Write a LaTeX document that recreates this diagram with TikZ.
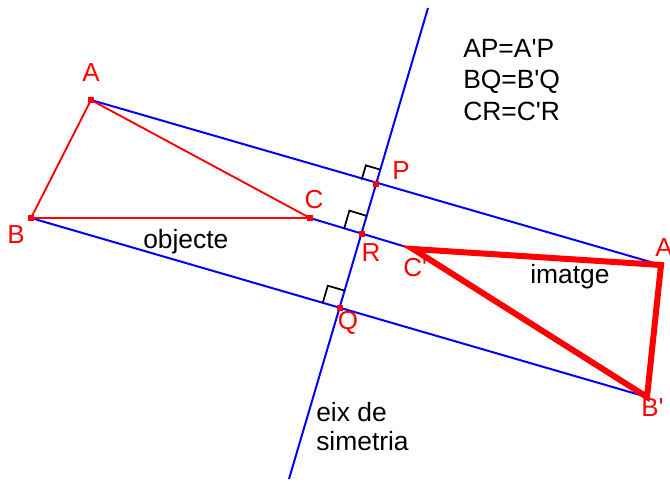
\documentclass[tikz,border=0pt]{standalone}
\usepackage{fontspec}
\setmainfont{Liberation Sans}[Ligatures=TeXOff]
\usetikzlibrary{calc}
\definecolor{myred}{RGB}{255,0,0}
\definecolor{myblue}{RGB}{0,0,255}
\begin{document}
\begin{tikzpicture}[x=0.75pt,y=-0.75pt,
  blueline/.style={myblue,line width=1.5pt},
  thinred/.style={myred,line width=1.4pt,line join=miter},
  thickred/.style={myred,line width=4.5pt,line join=miter},
  rmark/.style={black,line width=1.3pt},
  ptdot/.style={fill=myred,draw=none,inner sep=0pt,minimum size=4.5pt,rectangle},
  lab/.style={text=myred,font=\fontsize{19.5}{22}\selectfont,inner sep=0pt},
  txt/.style={text=black,font=\fontsize{19.8}{23}\selectfont,inner sep=0pt,anchor=base west}]
\useasboundingbox (0,0) rectangle (670,482);
% points
\coordinate (A) at (91,100);
\coordinate (B) at (31,218);
\coordinate (C) at (310,218);
\coordinate (P) at (376,184);
\coordinate (R) at (362,234);
\coordinate (Q) at (340,308);
\coordinate (A2) at (661,265);
\coordinate (B2) at (647,397);
\coordinate (C2) at (413,249);
\coordinate (axT) at (428,8);
\coordinate (axB) at (289,479);
% axis and perpendiculars
\draw[blueline] (axT) -- (axB);
\draw[blueline] (A) -- (A2);
\draw[blueline] (B) -- (B2);
\draw[blueline] (C) -- (C2);
% right angle marks
\coordinate (p1) at ($(P)!11.25pt!(A)$);
\coordinate (p3) at ($(P)!11.25pt!(axT)$);
\draw[rmark] (p1) -- ($(p1)+(p3)-(P)$) -- (p3);
\coordinate (r1) at ($(R)!14pt!(C)$);
\coordinate (r3) at ($(R)!14pt!(axT)$);
\draw[rmark] (r1) -- ($(r1)+(r3)-(R)$) -- (r3);
\coordinate (q1) at ($(Q)!13.5pt!(B)$);
\coordinate (q3) at ($(Q)!13.5pt!(axT)$);
\draw[rmark] (q1) -- ($(q1)+(q3)-(Q)$) -- (q3);
% triangles
\draw[thinred] (A) -- (B) -- (C) -- cycle;
\draw[thickred] (C2) -- (A2) -- (B2) -- cycle;
% point markers
\foreach \p in {A,B,C,P,R,Q} \node[ptdot] (d\p) at (\p) {};
% labels
\node[lab] (lA) at (91,73) {A};
\node[lab] (lB) at (16,235) {B};
\node[lab] (lC) at (314,200) {C};
\node[lab] (lP) at (401,171) {P};
\node[lab] (lR) at (371,253) {R};
\node[lab] (lQ) at (348,323) {Q};
\node[lab,anchor=west] (lC2) at (403,268) {C'};
\node[lab,anchor=west] (lA2) at (655,248) {A'};
\node[lab,anchor=west] (lB2) at (641,408) {B'};
% texts
\node[txt] (tobj) at (143,248) {objecte};
\node[txt] (timg) at (530,283) {imatge};
\node[txt] (t1) at (463,57) {AP=A'P};
\node[txt] (t2) at (463,88) {BQ=B'Q};
\node[txt] (t3) at (463,120) {CR=C'R};
\node[txt] (e1) at (316,421) {eix de};
\node[txt] (e2) at (316,450) {simetria};
\end{tikzpicture}
\end{document}
